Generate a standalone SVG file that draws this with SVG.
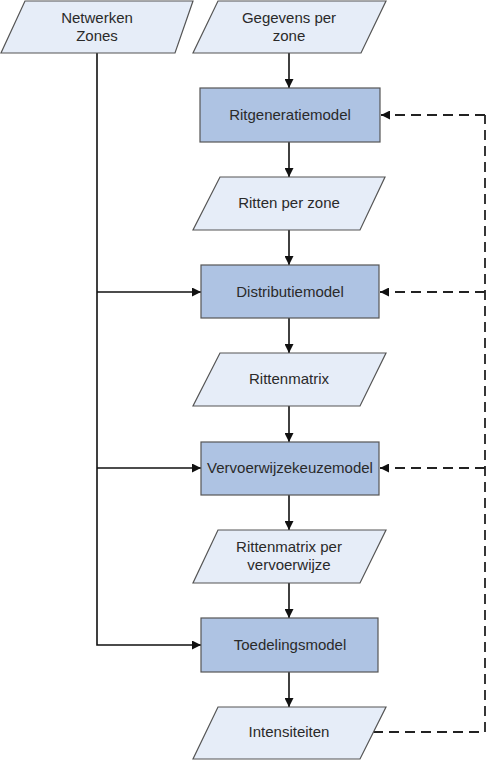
<svg xmlns="http://www.w3.org/2000/svg" width="487" height="760" viewBox="0 0 487 760">
<defs>
<marker id="ah" viewBox="0 0 10 10" refX="10" refY="5" markerWidth="9" markerHeight="9" markerUnits="userSpaceOnUse" orient="auto">
<path d="M0,0 L10,5 L0,10 z" fill="#111"/>
</marker>
</defs>
<style>
.data{fill:#e6edf8;stroke:#555;stroke-width:1.2}
.proc{fill:#aec3e3;stroke:#555;stroke-width:1.2}
.t{font-family:"Liberation Sans",Arial,sans-serif;font-size:15px;fill:#2a2a2a;text-anchor:middle}
.c{fill:none;stroke:#111;stroke-width:1.6}
.d{fill:none;stroke:#222;stroke-width:1.8;stroke-dasharray:10,6}
</style>
<rect width="487" height="760" fill="#fff"/>
<g id="connectors">
<line class="c" x1="289" y1="53" x2="289" y2="88" marker-end="url(#ah)"/>
<line class="c" x1="289" y1="142" x2="289" y2="177" marker-end="url(#ah)"/>
<line class="c" x1="289" y1="230" x2="289" y2="265" marker-end="url(#ah)"/>
<line class="c" x1="289" y1="318" x2="289" y2="353" marker-end="url(#ah)"/>
<line class="c" x1="289" y1="406" x2="289" y2="442" marker-end="url(#ah)"/>
<line class="c" x1="289" y1="495" x2="289" y2="530" marker-end="url(#ah)"/>
<line class="c" x1="289" y1="583" x2="289" y2="618" marker-end="url(#ah)"/>
<line class="c" x1="289" y1="672" x2="289" y2="707" marker-end="url(#ah)"/>
<path class="c" d="M97,53 V645 H201" marker-end="url(#ah)"/>
<line class="c" x1="97" y1="292" x2="201" y2="292" marker-end="url(#ah)"/>
<line class="c" x1="97" y1="468" x2="201" y2="468" marker-end="url(#ah)"/>
<path class="d" d="M373,732 H485 V115"/>
<line class="d" x1="485" y1="115" x2="381" y2="115" marker-end="url(#ah)"/>
<line class="d" x1="485" y1="292" x2="380" y2="292" marker-end="url(#ah)"/>
<line class="d" x1="485" y1="468" x2="380" y2="468" marker-end="url(#ah)"/>
</g>
<g id="netwerken">
<polygon class="data" points="25,1 193,1 175,53 1,53"/>
<text class="t" x="97" y="23">Netwerken</text>
<text class="t" x="97" y="41">Zones</text>
</g>
<g id="gegevens">
<polygon class="data" points="218,1 386,1 361,53 193,53"/>
<text class="t" x="289" y="23">Gegevens per</text>
<text class="t" x="289" y="41">zone</text>
</g>
<g id="ritgeneratiemodel">
<rect class="proc" x="200" y="88" width="180" height="54"/>
<text class="t" x="290" y="120">Ritgeneratiemodel</text>
</g>
<g id="ritten">
<polygon class="data" points="220,177 385,177 360,230 193,230"/>
<text class="t" x="289" y="208">Ritten per zone</text>
</g>
<g id="distributiemodel">
<rect class="proc" x="201" y="265" width="178" height="53"/>
<text class="t" x="290" y="297">Distributiemodel</text>
</g>
<g id="rittenmatrix">
<polygon class="data" points="220,353 386,353 360,406 193,406"/>
<text class="t" x="289" y="384">Rittenmatrix</text>
</g>
<g id="vervoerwijzekeuzemodel">
<rect class="proc" x="201" y="442" width="178" height="53"/>
<text class="t" x="290" y="473">Vervoerwijzekeuzemodel</text>
</g>
<g id="rittenmatrix-per">
<polygon class="data" points="218,530 386,530 360,583 193,583"/>
<text class="t" x="289" y="552">Rittenmatrix per</text>
<text class="t" x="289" y="570">vervoerwijze</text>
</g>
<g id="toedelingsmodel">
<rect class="proc" x="201" y="618" width="177" height="54"/>
<text class="t" x="290" y="650">Toedelingsmodel</text>
</g>
<g id="intensiteiten">
<polygon class="data" points="218,707 386,707 360,759 193,759"/>
<text class="t" x="289" y="737">Intensiteiten</text>
</g>
</svg>
